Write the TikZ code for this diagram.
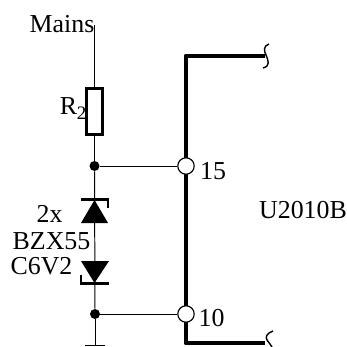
\documentclass[tikz,border=0pt]{standalone}
\usepackage{fontspec}
\setmainfont{Liberation Serif}
\tikzset{
  wire/.style={line width=0.7pt},
  bus/.style={line width=3.5pt,line join=round},
  pin/.style={circle,draw,line width=0.8pt,fill=white,inner sep=0pt,minimum size=4.1mm},
  dot/.style={circle,fill=black,inner sep=0pt,minimum size=2.5mm},
  resistor/.style={draw,line width=1.8pt,fill=white,inner sep=0pt,minimum width=3.9mm,minimum height=11.6mm},
  lbl/.style={font=\fontsize{18.4}{19}\selectfont,inner sep=0pt},
  lblsub/.style={font=\fontsize{13.5}{14}\selectfont,inner sep=0pt},
  zbar/.style={line width=1.7pt},
  brk/.style={line width=1pt}
}
\begin{document}
\begin{tikzpicture}[x=0.25mm,y=-0.25mm]
  \useasboundingbox (0,0) rectangle (347,347);
  \coordinate (top) at (94.5,25);
  \node [resistor] (r2) at (94.5,111.5) {};
  \node [dot] (j1) at (94.5,166) {};
  \node [dot] (j2) at (95,314) {};
  \coordinate (gnd) at (95,345);
  \coordinate (bustop) at (186,56);
  \coordinate (busbot) at (186,343);
  \coordinate (busA) at (265,56);
  \coordinate (busB) at (265,343);
  % zener diodes
  \coordinate (z1) at (94.5,200);
  \coordinate (z2) at (94.5,283);
  \draw [wire] (top) -- (r2);
  \draw [wire] (r2) -- (j1);
  \draw [wire] (j1) -- (j2);
  \draw [wire] (j2) -- (gnd);
  \draw [wire] (85,345) -- (105,345);
  \draw [bus] (busA) -- (bustop) -- (busbot) -- (busB);
  \node [pin] (p15) at (186,166) {};
  \node [pin] (p10) at (186,314) {};
  \draw [wire] (j1) -- (p15);
  \draw [wire] (j2) -- (p10);
  \fill (z1) -- (108,223) -- (81,223) -- cycle;
  \fill (z2) -- (109,261) -- (81,261) -- cycle;
  \draw [zbar] (81,199.5) -- (108,199.5) -- (108,208);
  \draw [zbar] (81,275) -- (81,283.5) -- (109,283.5);
  \draw [brk] (269,44) .. controls (263,46) and (264,51) .. (266,55) .. controls (268,60) and (271,66) .. (263,68);
  \draw [brk] (273,331) .. controls (267,333) and (265,337) .. (267,340) .. controls (269,343) and (271,345) .. (272,347);
  \node [lbl] (mains) at (62,24) {Mains};
  \node [lbl] (r) at (68.5,106) {R};
  \node [lblsub] (rsub) at (81.5,113.5) {2};
  \node [lbl] (n2x) at (49.5,214) {2x};
  \node [lbl] (bzx) at (51.5,241) {BZX55};
  \node [lbl] (c6v2) at (41.5,266) {C6V2};
  \node [lbl] (n15) at (213,171) {15};
  \node [lbl] (n10) at (211.5,318) {10};
  \node [lbl] (u) at (303,210) {U2010B};
\end{tikzpicture}
\end{document}
